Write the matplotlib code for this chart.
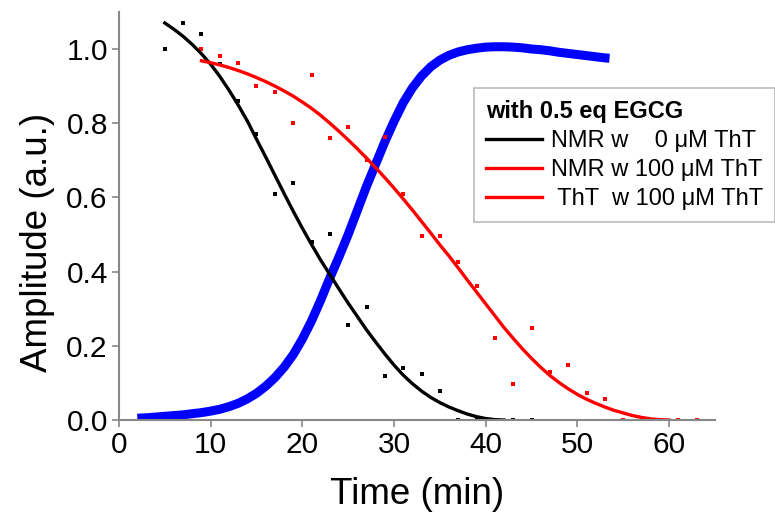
import numpy as np
import matplotlib
matplotlib.use("Agg")
import matplotlib.pyplot as plt

plt.rcParams['font.family'] = ['Liberation Sans', 'DejaVu Sans']

# NMR data, 0 uM ThT (black dots)
nmr0_t = [5, 7, 9, 11, 13, 15, 17, 19, 21, 23, 25, 27, 29, 31, 33, 35, 37, 39, 41, 43, 45]
nmr0_y = [1.0, 1.07, 1.04, 0.96, 0.86, 0.77, 0.61, 0.64, 0.48, 0.50, 0.255, 0.305,
          0.118, 0.14, 0.124, 0.079, 0.0, 0.0, 0.0, 0.0, 0.0]

# NMR data, 100 uM ThT (red dots)
nmr100_t = [9, 11, 13, 15, 17, 19, 21, 23, 25, 27, 29, 31, 33, 35, 37, 39, 41, 43,
            45, 47, 49, 51, 53, 55, 57, 59, 61, 63]
nmr100_y = [1.0, 0.98, 0.963, 0.90, 0.885, 0.80, 0.93, 0.76, 0.79, 0.70, 0.763, 0.61,
            0.495, 0.495, 0.427, 0.362, 0.222, 0.096, 0.247, 0.13, 0.148, 0.074,
            0.058, 0.0, 0.0, 0.0, 0.0, 0.0]

# fit curves (1 min steps)
fit0_t = list(range(5, 43))
fit0_y = [1.070, 1.053, 1.034, 1.012, 0.987, 0.959, 0.926, 0.889, 0.849, 0.806,
          0.757, 0.709, 0.660, 0.611, 0.563, 0.517, 0.473, 0.431, 0.392, 0.353,
          0.315, 0.279, 0.243, 0.210, 0.178, 0.148, 0.121, 0.098, 0.078, 0.061,
          0.047, 0.035, 0.025, 0.016, 0.009, 0.004, 0.001, 0.0]

fit100_t = list(range(9, 61))
fit100_y = [0.968, 0.963, 0.957, 0.950, 0.942, 0.933, 0.923, 0.912, 0.900, 0.887,
            0.873, 0.857, 0.840, 0.821, 0.800, 0.778, 0.755, 0.731, 0.706, 0.680,
            0.653, 0.625, 0.596, 0.566, 0.535, 0.504, 0.472, 0.442, 0.410, 0.377,
            0.345, 0.313, 0.281, 0.249, 0.220, 0.192, 0.166, 0.142, 0.120, 0.101,
            0.084, 0.069, 0.056, 0.045, 0.035, 0.026, 0.019, 0.012, 0.007, 0.003,
            0.001, 0.0]

# ThT fluorescence (blue)
tht_t = list(range(2, 54)) + [53.5]
tht_y = [0.005, 0.006, 0.008, 0.010, 0.012, 0.014, 0.017, 0.020, 0.024, 0.029, 0.036,
         0.045, 0.057, 0.072, 0.091, 0.114, 0.142, 0.176, 0.218, 0.267, 0.323, 0.383,
         0.44, 0.50, 0.565, 0.63, 0.69, 0.75, 0.805, 0.855, 0.895, 0.927, 0.952, 0.97,
         0.983, 0.992, 0.998, 1.002, 1.005, 1.006, 1.006, 1.005, 1.003, 1.0, 0.998,
         0.995, 0.991, 0.988, 0.985, 0.982, 0.979, 0.976, 0.975]

labels = ['NMR w    0 \u03bcM ThT', 'NMR w 100 \u03bcM ThT', ' ThT  w 100 \u03bcM ThT']

fig = plt.figure(figsize=(7.75, 5.16), dpi=100)
ax = fig.add_axes([0.1535, 0.186, 0.769, 0.791])

ax.plot(tht_t, tht_y, color='#0000ff', lw=6.5, solid_capstyle='butt')
ax.plot(nmr0_t, nmr0_y, 's', color='black', ms=2.8, mew=0)
ax.plot(nmr100_t, nmr100_y, 's', color='red', ms=2.8, mew=0)
l1, = ax.plot(fit0_t, fit0_y, color='black', lw=2.4)
l2, = ax.plot(fit100_t, fit100_y, color='red', lw=2.4)
l3, = ax.plot([], [], color='red', lw=2.4)

ax.set_xlim(0, 65)
ax.set_ylim(0, 1.1)
ax.set_xticks([0, 10, 20, 30, 40, 50, 60])
ax.set_yticks([0.0, 0.2, 0.4, 0.6, 0.8, 1.0])
ax.set_yticklabels(['0.0', '0.2', '0.4', '0.6', '0.8', '1.0'])

for s in ['top', 'right']:
    ax.spines[s].set_visible(False)
for s in ['left', 'bottom']:
    ax.spines[s].set_color('#888888')
    ax.spines[s].set_linewidth(1.5)
ax.tick_params(direction='out', length=5, width=1.2, color='#888888',
               labelsize=21.5, pad=3)

ax.set_xlabel('Time (min)', fontsize=26.5, labelpad=13)
ax.set_ylabel('Amplitude (a.u.)', fontsize=26.5)
ax.yaxis.set_label_coords(-0.108, 0.434)

leg = ax.legend([l1, l2, l3], labels, title='with 0.5 eq EGCG',
                loc='upper left', bbox_to_anchor=(474 / 775, 1 - 88 / 516),
                bbox_transform=fig.transFigure, borderaxespad=0,
                fontsize=17, title_fontproperties={'weight': 'bold', 'size': 17},
                alignment='left', fancybox=False, edgecolor='#bbbbbb',
                framealpha=1, handlelength=2.4, handletextpad=0.35,
                labelspacing=0.3, borderpad=0.5)
leg.get_frame().set_linewidth(1.2)

plt.savefig('out.png', dpi=100)
plt.close()
